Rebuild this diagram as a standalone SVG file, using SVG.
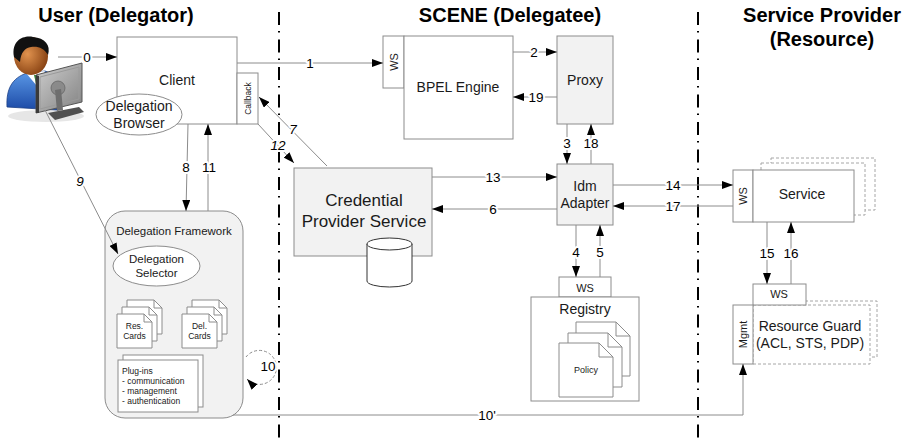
<svg xmlns="http://www.w3.org/2000/svg" width="911" height="440" viewBox="0 0 911 440">
  <style>
    text { font-family: "Liberation Sans", Arial, sans-serif; fill: #1a1a1a; }
    .title { font-size: 20px; font-weight: bold; text-anchor: middle; fill: #000; }
    .box { fill: #fff; stroke: #8c8c8c; stroke-width: 1; }
    .shade { fill: #f2f2f2; stroke: #8c8c8c; stroke-width: 1; }
    .ghost { fill: #fff; stroke: #a6a6a6; stroke-width: 1; stroke-dasharray: 3 2; }
    .con { fill: none; stroke: #8c8c8c; stroke-width: 1; }
    .arr { marker-end: url(#ah); }
    .lbl { font-size: 13.5px; text-anchor: middle; fill: #000; stroke: #fff; stroke-width: 4px; paint-order: stroke; stroke-linejoin: round; }
    .it { font-style: italic; }
    .c14 { font-size: 14px; text-anchor: middle; }
    .c11 { font-size: 11px; text-anchor: middle; }
    .small { font-size: 8.5px; }
    .divider { fill: none; stroke: #000; stroke-width: 2; stroke-dasharray: 13 6 1.5 7; }
  </style>
  <defs>
    <marker id="ah" markerWidth="11" markerHeight="8" refX="11" refY="4" orient="auto" markerUnits="userSpaceOnUse">
      <path d="M0,0 L11,4 L0,8 z" fill="#000"/>
    </marker>
    <linearGradient id="suit" x1="0" y1="0" x2="0" y2="1">
      <stop offset="0" stop-color="#5c9ae8"/>
      <stop offset="1" stop-color="#1c4aa6"/>
    </linearGradient>
    <radialGradient id="skin" cx="0.4" cy="0.45" r="0.6">
      <stop offset="0" stop-color="#e0924e"/>
      <stop offset="1" stop-color="#8a4414"/>
    </radialGradient>
    <linearGradient id="screen" x1="0" y1="0" x2="1" y2="1">
      <stop offset="0" stop-color="#d0d0d0"/>
      <stop offset="1" stop-color="#808080"/>
    </linearGradient>
    <g id="card">
      <path d="M0,0 H27 L35,8 V34 H0 Z" class="box"/>
      <path d="M27,0 V8 H35" class="con"/>
    </g>
    <g id="doc">
      <path d="M0,0 H40 L54,14 V54 H0 Z" class="box"/>
      <path d="M40,0 V14 H54" class="con"/>
    </g>
  </defs>

  <!-- column headings -->
  <text class="title" x="116" y="22">User (Delegator)</text>
  <text class="title" x="510" y="22" font-size="19">SCENE (Delegatee)</text>
  <text class="title" x="822" y="22">Service Provider</text>
  <text class="title" x="822" y="46">(Resource)</text>

  <!-- zone dividers -->
  <path class="divider" d="M279,12 V440"/>
  <path class="divider" d="M698,12 V440"/>

  <!-- user at workstation -->
  <g id="user">
    <ellipse cx="46" cy="116" rx="38" ry="6" fill="#e6e6e6"/>
    <path d="M7,107 C6,89 12,78 27,73 L45,71 C53,73 57,81 57,92 L57,110 Z" fill="url(#suit)" stroke="#1c3f85" stroke-width="0.8"/>
    <path d="M26,73 L37,86 L45,71 Z" fill="#fff"/>
    <path d="M34,75 L37,88 L40,75 Z" fill="#2e8b2e"/>
    <ellipse cx="31" cy="56" rx="17" ry="19" fill="url(#skin)"/>
    <path d="M14,57 C11,40 24,35 33,37 C45,38 51,45 48,55 C44,48 38,46 31,47 C25,48 21,52 20,62 Z" fill="#111"/>
    <polygon points="36,75 82,63 82,102 36,113" fill="url(#screen)" stroke="#555" stroke-width="1"/>
    <polygon points="40,77 79,67 79,99 40,109" fill="none" stroke="#9a9a9a" stroke-width="1"/>
    <path d="M36,75 L39,76 L39,113 L36,113 Z" fill="#3a3a3a"/>
    <circle cx="58" cy="88" r="7" fill="#8a8a8a" stroke="#666" stroke-width="0.8"/>
    <path d="M55,90 L61,89 L63,110 L57,111 Z" fill="#6e6e6e"/>
    <polygon points="48,113 79,107 84,112 55,120" fill="#505050"/>
  </g>

  <!-- nodes -->
  <g id="client">
    <rect class="box" x="117" y="37" width="120" height="87"/>
    <text class="c14" x="177" y="85">Client</text>
  </g>
  <g id="callback">
    <rect class="box" x="237" y="73" width="21" height="51"/>
    <text class="small" text-anchor="middle" transform="translate(250.5,98.5) rotate(-90)">Callback</text>
  </g>
  <g id="delegation-browser">
    <ellipse class="box" cx="139" cy="114.5" rx="43" ry="20.5"/>
    <text class="c14" x="139" y="111">Delegation</text>
    <text class="c14" x="139" y="128">Browser</text>
  </g>

  <g id="bpel-engine">
    <rect class="box" x="383" y="36" width="21" height="52"/>
    <text class="c11" transform="translate(397.5,62) rotate(-90)">WS</text>
    <rect class="box" x="404" y="36" width="109" height="103"/>
    <text class="c14" x="458" y="92">BPEL Engine</text>
  </g>
  <g id="proxy">
    <rect class="shade" x="557" y="36" width="56" height="88"/>
    <text class="c14" x="585" y="85">Proxy</text>
  </g>

  <g id="credential-provider">
    <rect class="shade" x="294" y="168" width="138" height="88"/>
    <text font-size="17" text-anchor="middle" x="364" y="206">Credential</text>
    <text font-size="17" text-anchor="middle" x="364" y="227">Provider Service</text>
    <path d="M367,244 V281 A22.5,6 0 0 0 412,281 V244" fill="#fff" stroke="#333" stroke-width="1"/>
    <ellipse cx="389.5" cy="244" rx="22.5" ry="6" fill="#fff" stroke="#333" stroke-width="1"/>
  </g>

  <g id="idm-adapter">
    <rect class="shade" x="557" y="164" width="56" height="61"/>
    <text class="c14" x="585" y="191">Idm</text>
    <text class="c14" x="585" y="208">Adapter</text>
  </g>

  <g id="registry">
    <rect class="box" x="559" y="277" width="52" height="20"/>
    <text class="c11" x="585" y="292">WS</text>
    <rect class="box" x="531" y="297" width="108" height="104"/>
    <text class="c14" x="585" y="314">Registry</text>
    <use href="#doc" x="576" y="322"/>
    <use href="#doc" x="568" y="333"/>
    <use href="#doc" x="559" y="343"/>
    <text font-size="9" text-anchor="middle" x="586" y="373">Policy</text>
  </g>

  <g id="service">
    <rect class="ghost" x="771" y="158" width="104" height="52"/>
    <rect class="ghost" x="761" y="163" width="104" height="52"/>
    <rect class="box" x="733" y="170" width="20" height="52"/>
    <text class="c11" transform="translate(747,196) rotate(-90)">WS</text>
    <rect class="box" x="753" y="170" width="101" height="52"/>
    <text class="c14" x="802" y="199">Service</text>
  </g>

  <g id="resource-guard">
    <rect class="ghost" x="760" y="301" width="117" height="56"/>
    <rect class="ghost" x="753" y="305" width="117" height="59"/>
    <rect class="box" x="753" y="284" width="53" height="21"/>
    <text class="c11" x="779" y="298">WS</text>
    <rect class="box" x="733" y="305" width="20" height="59"/>
    <text class="c11" transform="translate(747,334.5) rotate(-90)">Mgmt</text>
    <text class="c14" x="810" y="331">Resource Guard</text>
    <text class="c14" x="810" y="348">(ACL, STS, PDP)</text>
  </g>

  <g id="delegation-framework">
    <rect class="shade" x="105" y="211" width="138" height="207" rx="20" ry="20"/>
    <text font-size="11.5" text-anchor="middle" x="174" y="235">Delegation Framework</text>
    <ellipse class="box" cx="156.5" cy="266" rx="43.5" ry="20"/>
    <text font-size="11.5" text-anchor="middle" x="156.5" y="263">Delegation</text>
    <text font-size="11.5" text-anchor="middle" x="156.5" y="277">Selector</text>
    <use href="#card" x="127" y="300"/>
    <use href="#card" x="122" y="307"/>
    <use href="#card" x="117" y="314"/>
    <text class="small" text-anchor="middle" x="134.5" y="329">Res.</text>
    <text class="small" text-anchor="middle" x="134.5" y="339">Cards</text>
    <use href="#card" x="192" y="300"/>
    <use href="#card" x="187" y="307"/>
    <use href="#card" x="182" y="314"/>
    <text class="small" text-anchor="middle" x="199.5" y="329">Del.</text>
    <text class="small" text-anchor="middle" x="199.5" y="339">Cards</text>
    <rect class="box" x="123" y="355" width="80" height="52"/>
    <rect class="box" x="118" y="360" width="80" height="52"/>
    <text class="small" x="122" y="374">Plug-ins</text>
    <text class="small" x="122" y="384">- communication</text>
    <text class="small" x="122" y="394">- management</text>
    <text class="small" x="122" y="404">- authentication</text>
  </g>

  <!-- connectors -->
  <g id="connectors">
    <path class="con arr" d="M58,57 H117"/>
    <path class="con arr" d="M237,63 H383"/>
    <path class="con arr" d="M513,52 H557"/>
    <path class="con arr" d="M557,97 H513"/>
    <path class="con arr" d="M567,124 V164"/>
    <path class="con arr" d="M591,164 V124"/>
    <path class="con arr" d="M432,177 H557"/>
    <path class="con arr" d="M557,209 H432"/>
    <path class="con arr" d="M576,225 V277"/>
    <path class="con arr" d="M600,277 V225"/>
    <path class="con arr" d="M613,185 H733"/>
    <path class="con arr" d="M733,206 H613"/>
    <path class="con arr" d="M767,222 V284"/>
    <path class="con arr" d="M791,284 V222"/>
    <path class="con arr" d="M327,166 L259,97"/>
    <path class="con arr" d="M258,124 L294,163"/>
    <path class="con arr" d="M188,124 L186,211"/>
    <path class="con arr" d="M208,211 V124"/>
    <path class="con arr" d="M45,110 L118,254"/>
    <path class="con arr" d="M246,357 A17,17 0 1 1 247,379" stroke-dasharray="3 2"/>
    <path class="con arr" d="M233,415 H743 V364"/>

    <text class="lbl" x="87" y="62">0</text>
    <text class="lbl" x="310" y="68">1</text>
    <text class="lbl" x="534" y="57">2</text>
    <text class="lbl" x="536" y="102">19</text>
    <text class="lbl" x="567" y="148">3</text>
    <text class="lbl" x="591" y="148">18</text>
    <text class="lbl" x="493" y="182">13</text>
    <text class="lbl" x="493" y="214">6</text>
    <text class="lbl" x="576" y="257">4</text>
    <text class="lbl" x="600" y="257">5</text>
    <text class="lbl" x="673" y="190">14</text>
    <text class="lbl" x="673" y="211">17</text>
    <text class="lbl" x="767" y="258">15</text>
    <text class="lbl" x="791" y="258">16</text>
    <text class="lbl it" x="293" y="134">7</text>
    <text class="lbl it" x="278" y="150">12</text>
    <text class="lbl" x="186" y="172">8</text>
    <text class="lbl" x="209" y="172">11</text>
    <text class="lbl it" x="80" y="186">9</text>
    <text class="lbl" x="268" y="371">10</text>
    <text class="lbl" x="487" y="420">10'</text>
  </g>
</svg>
